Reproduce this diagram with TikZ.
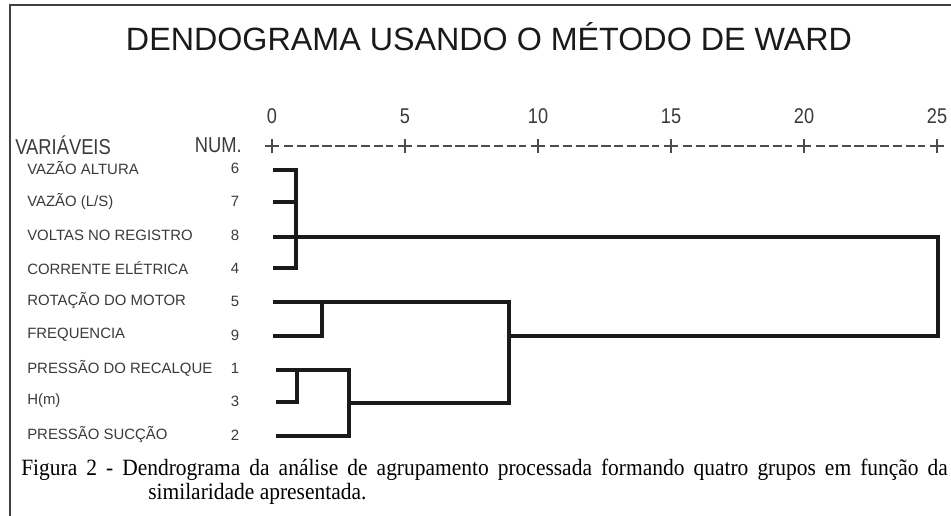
\documentclass[tikz,border=0pt]{standalone}
\usepackage{fontspec}
\setmainfont{Liberation Serif}
\newfontfamily\titlefont{Liberation Sans}
\newfontfamily\axisfont[FakeStretch=0.85]{Liberation Sans}
\newfontfamily\labelfont{Liberation Sans}
\newfontfamily\capfont[FakeStretch=0.92]{Liberation Serif}
\definecolor{ink}{HTML}{1A1A1A}
\definecolor{txt}{HTML}{3A3A3A}
\begin{document}
\begin{tikzpicture}[x=0.75pt,y=-0.75pt,
  frameline/.style={draw=black!75,line width=1.5pt},
  branch/.style={draw=ink,line width=3pt,line cap=butt,line join=miter},
  varlabel/.style={anchor=west,inner sep=0pt,text=txt,font=\labelfont\fontsize{11.2}{13}\selectfont},
  numlabel/.style={anchor=center,inner sep=0pt,text=txt,font=\labelfont\fontsize{11.2}{13}\selectfont},
  axisnum/.style={anchor=center,inner sep=0pt,text=txt,font=\axisfont\fontsize{16}{18}\selectfont},
  headlabel/.style={inner sep=0pt,text=txt,font=\axisfont\fontsize{16.2}{18}\selectfont},
  tick/.style={draw=black!70,line width=0.8pt},
  axisdash/.style={draw=black!70,line width=0.8pt,dash pattern=on 7pt off 2.6pt}
]
\useasboundingbox (0,0) rectangle (951,516);
\fill[white] (0,0) rectangle (951,516);
% frame
\coordinate (fb) at (10,516);
\coordinate (ftl) at (10,5);
\coordinate (fr) at (951,5);
\draw[frameline] (fb) -- (ftl) -- (fr);
% title
\node[inner sep=0pt,text=ink,font=\titlefont\fontsize{24.2}{27}\selectfont] (title) at (489,37) {DENDOGRAMA USANDO O MÉTODO DE WARD};
% axis header
\node[headlabel,anchor=west] (vh) at (15,145) {VARIÁVEIS};
\node[headlabel,anchor=east] (nh) at (242,145) {NUM.};
\foreach \i/\v in {0/0,1/5,2/10,3/15,4/20,5/25}{
  \node[axisnum] (ax\i) at ({272+\i*133},116) {\v};
  \coordinate (tk\i) at ({272+\i*133},146);
  \draw[tick] ([xshift=-5.5]tk\i) -- ([xshift=5.5]tk\i) ([yshift=-5.5]tk\i) -- ([yshift=5.5]tk\i);
}
\foreach \i [evaluate=\i as \j using int(\i+1)] in {0,...,4}{
  \draw[axisdash] ([xshift=9]tk\i) -- ([xshift=-9]tk\j);
}
% variable labels
\foreach \n/\lab/\num/\y in {
  6/{VAZÃO ALTURA}/6/168,
  7/{VAZÃO (L/S)}/7/201,
  8/{VOLTAS NO REGISTRO}/8/235,
  4/{CORRENTE ELÉTRICA}/4/268,
  5/{ROTAÇÃO DO MOTOR}/5/301,
  9/{FREQUENCIA}/9/335,
  1/{PRESSÃO DO RECALQUE}/1/368,
  3/{H(m)}/3/401,
  2/{PRESSÃO SUCÇÃO}/2/435}{
  \node[varlabel] (v\n) at (27,\y) {\lab};
  \node[numlabel] (n\n) at (235,\y) {\num};
}
% leaf ends
\coordinate (l6) at (273,170.5);
\coordinate (l7) at (273,202);
\coordinate (l8) at (273,237.5);
\coordinate (l4) at (273,268);
\coordinate (l5) at (273,302.5);
\coordinate (l9) at (273,336.5);
\coordinate (l1) at (276,370);
\coordinate (l3) at (276,402);
\coordinate (l2) at (276,436);
% merge points
\coordinate (m6a) at (296,170.5);
\coordinate (m7a) at (296,202);
\coordinate (m8a) at (296,237.5);
\coordinate (m4a) at (296,268);
\coordinate (m9a) at (322,336.5);
\coordinate (m5a) at (322,302.5);
\coordinate (m3a) at (297,402);
\coordinate (m1a) at (297,370);
\coordinate (m1b) at (349,370);
\coordinate (m2b) at (349,436);
\coordinate (m13) at (349,403);
\coordinate (c5) at (509,302.5);
\coordinate (c13) at (509,403);
\coordinate (c59) at (509,336.5);
\coordinate (rt) at (938,237.5);
\coordinate (rb) at (938,336.5);
% top cluster
\draw[branch] (l6) -- (m6a) -- (m4a) -- (l4);
\draw[branch] (l7) -- (m7a);
\draw[branch] (l8) -- (rt) -- (rb) -- (c59);
% bottom cluster
\draw[branch] (l9) -- (m9a) -- (m5a);
\draw[branch] (l5) -- (c5) -- (c13) -- (m13);
\draw[branch] (l3) -- (m3a) -- (m1a);
\draw[branch] (l1) -- (m1b) -- (m2b) -- (l2);
% caption
\node[anchor=base west,inner sep=0pt,text=black,font=\capfont\fontsize{17.5}{19}\selectfont] (cap1) at (21,476) {\hbox to 695pt{Figura 2 - Dendrograma da análise de agrupamento processada formando quatro grupos em função da}};
\node[anchor=base west,inner sep=0pt,text=black,font=\capfont\fontsize{17.5}{19}\selectfont] (cap2) at (148,500) {similaridade apresentada.};
\end{tikzpicture}
\end{document}
